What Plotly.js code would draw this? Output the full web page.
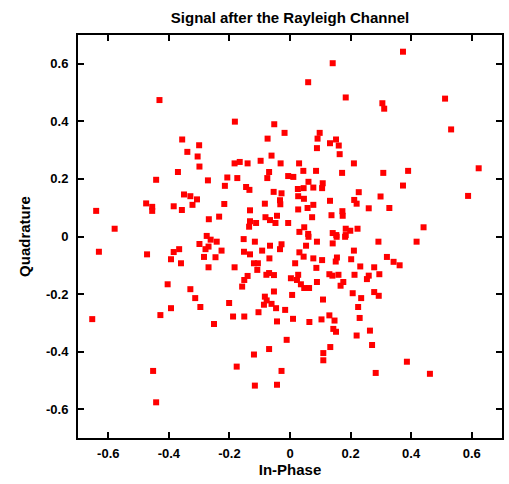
<!DOCTYPE html>
<html>
<head>
<meta charset="utf-8">
<script src="https://cdn.plot.ly/plotly-3.0.1.min.js"></script>
<style>html,body{margin:0;padding:0;background:#fff;}#chart{width:509px;height:484px;}</style>
</head>
<body>
<div id="chart"></div>
<script>
// In-phase (x) and quadrature (y) components of received symbols
const inPhase = [
-0.431,-0.356,-0.300,-0.339,-0.305,-0.299,-0.370,-0.442,-0.271,-0.350,-0.329,-0.307,-0.322,-0.475,-0.455,-0.455,-0.384,-0.357,-0.640,-0.268,-0.234,-0.579,-0.275,
0.141,0.060,0.184,-0.182,-0.052,-0.018,0.098,0.091,-0.074,0.152,0.132,0.161,0.089,0.164,-0.061,-0.183,-0.166,-0.140,-0.097,-0.031,0.030,0.211,0.044,0.086,0.172,-0.069,-0.075,-0.207,-0.174,-0.006,0.011,0.061,0.108,-0.215,-0.145,-0.134,0.045,0.077,0.106,0.026,-0.054,-0.028,0.227,0.027,0.046,-0.033,-0.032,-0.217,-0.083,0.132,0.212,0.220,0.077,0.027,0.058,-0.132,0.173,0.174,0.137,-0.043,-0.081,0.073,-0.132,-0.066,-0.048,-0.112,-0.006,-0.135,0.047,0.184,0.199,0.223,0.031,0.141,0.060,0.153,0.184,
0.373,0.305,0.311,0.512,0.532,0.308,0.390,0.623,0.373,0.299,0.588,0.260,0.328,0.441,
-0.262,-0.242,-0.631,-0.472,-0.384,-0.366,-0.299,-0.279,-0.269,-0.393,-0.360,-0.284,-0.246,-0.269,-0.404,-0.329,-0.313,-0.296,-0.393,-0.428,-0.653,-0.251,-0.452,-0.442,
-0.226,-0.153,-0.116,-0.152,-0.132,-0.092,-0.066,-0.028,-0.033,-0.068,0.031,0.045,0.053,0.061,0.089,0.141,0.154,0.182,0.211,0.077,0.106,0.151,0.155,0.202,-0.183,-0.119,-0.106,-0.108,0.017,0.087,-0.069,-0.053,-0.078,-0.140,-0.151,-0.158,0.003,0.027,0.023,0.036,0.047,0.063,0.089,0.130,0.140,0.160,0.176,0.167,0.213,0.232,-0.053,-0.083,-0.077,-0.086,-0.061,-0.046,-0.016,0.007,0.109,0.207,0.235,-0.201,-0.188,-0.151,-0.104,-0.043,0.010,0.064,0.104,0.130,0.147,0.225,0.230,0.143,0.152,-0.011,0.220,0.133,-0.069,-0.119,0.110,0.110,-0.176,-0.028,-0.116,-0.043,
0.292,0.418,0.320,0.342,0.362,0.278,0.260,0.254,0.295,0.278,0.293,0.264,0.271,0.386,0.283,0.462
];
const quadrature = [
0.474,0.337,0.317,0.294,0.278,0.243,0.224,0.197,0.195,0.146,0.140,0.129,0.110,0.115,0.103,0.089,0.105,0.092,0.089,0.060,0.069,0.027,0.002,
0.602,0.536,0.483,0.399,0.390,0.360,0.360,0.340,0.340,0.337,0.324,0.316,0.307,0.286,0.281,0.254,0.259,0.254,0.263,0.254,0.254,0.254,0.228,0.228,0.221,0.224,0.203,0.205,0.203,0.210,0.207,0.190,0.185,0.176,0.172,0.162,0.168,0.170,0.168,0.165,0.155,0.150,0.154,0.140,0.131,0.126,0.112,0.113,0.114,0.124,0.127,0.114,0.110,0.094,0.099,0.091,0.088,0.072,0.074,0.072,0.067,0.067,0.053,0.057,0.047,0.047,0.047,0.034,0.032,0.027,0.020,0.027,0.016,0.012,0.009,0.005,0.005,
0.642,0.463,0.444,0.479,0.372,0.221,0.228,0.237,0.177,0.139,0.141,0.098,0.099,0.032,
-0.011,-0.018,-0.053,-0.062,-0.054,-0.044,-0.026,-0.044,-0.035,-0.079,-0.093,-0.071,-0.072,-0.107,-0.166,-0.183,-0.214,-0.245,-0.249,-0.273,-0.287,-0.304,-0.467,-0.576,
-0.049,-0.009,-0.018,-0.053,-0.062,-0.049,-0.032,-0.027,-0.044,-0.076,-0.055,-0.070,-0.032,-0.001,-0.018,-0.024,-0.001,-0.001,-0.049,-0.076,-0.082,-0.087,-0.073,-0.079,-0.107,-0.093,-0.093,-0.116,-0.093,-0.109,-0.127,-0.134,-0.133,-0.137,-0.151,-0.174,-0.145,-0.133,-0.151,-0.166,-0.179,-0.179,-0.158,-0.131,-0.136,-0.133,-0.158,-0.171,-0.133,-0.104,-0.191,-0.209,-0.222,-0.237,-0.234,-0.249,-0.255,-0.203,-0.219,-0.197,-0.214,-0.231,-0.278,-0.278,-0.263,-0.295,-0.286,-0.297,-0.288,-0.274,-0.292,-0.245,-0.283,-0.321,-0.331,-0.359,-0.344,-0.384,-0.391,-0.410,-0.405,-0.430,-0.452,-0.467,-0.518,-0.515,
-0.018,-0.018,-0.071,-0.088,-0.100,-0.107,-0.136,-0.148,-0.131,-0.193,-0.206,-0.327,-0.377,-0.435,-0.474,-0.477
];
const tickVals = [-0.6,-0.4,-0.2,0,0.2,0.4,0.6];
const tickText = ['-0.6','-0.4','-0.2','0','0.2','0.4','0.6'];

const fam = '"Liberation Sans", Arial, sans-serif';
const axisCommon = {
  range:[-0.7,0.7], tickmode:'array', tickvals:tickVals, ticktext:tickText,
  showgrid:false, zeroline:false, showline:true, linecolor:'#000', linewidth:2,
  mirror:'ticks', ticks:'inside', ticklen:6, tickwidth:2, tickcolor:'#000',
  tickfont:{family:fam, size:13, color:'#000', weight:'bold'}
};
const trace = {
  x:inPhase, y:quadrature, type:'scatter', mode:'markers',
  marker:{symbol:'square', size:6, color:'#ff0000', line:{width:0}},
  hoverinfo:'skip'
};
const layout = {
  width:509, height:484,
  margin:{l:78, r:7, t:35, b:46},
  paper_bgcolor:'#fff', plot_bgcolor:'#fff',
  showlegend:false,
  font:{family:fam, size:13, color:'#000'},
  title:{text:'Signal after the Rayleigh Channel', x:0.5, xref:'paper', y:0.963, yanchor:'middle',
         font:{family:fam, size:15, color:'#000', weight:'bold'}},
  xaxis:Object.assign({}, axisCommon, {ticklabelstandoff:2,
         title:{text:'In-Phase', standoff:5, font:{family:fam, size:15, color:'#000', weight:'bold'}}}),
  yaxis:Object.assign({}, axisCommon, {ticklabelstandoff:5,
         title:{text:'Quadrature', standoff:12, font:{family:fam, size:15, color:'#000', weight:'bold'}}})
};
Plotly.newPlot('chart', [trace], layout, {staticPlot:true, displayModeBar:false});
</script>
</body>
</html>
